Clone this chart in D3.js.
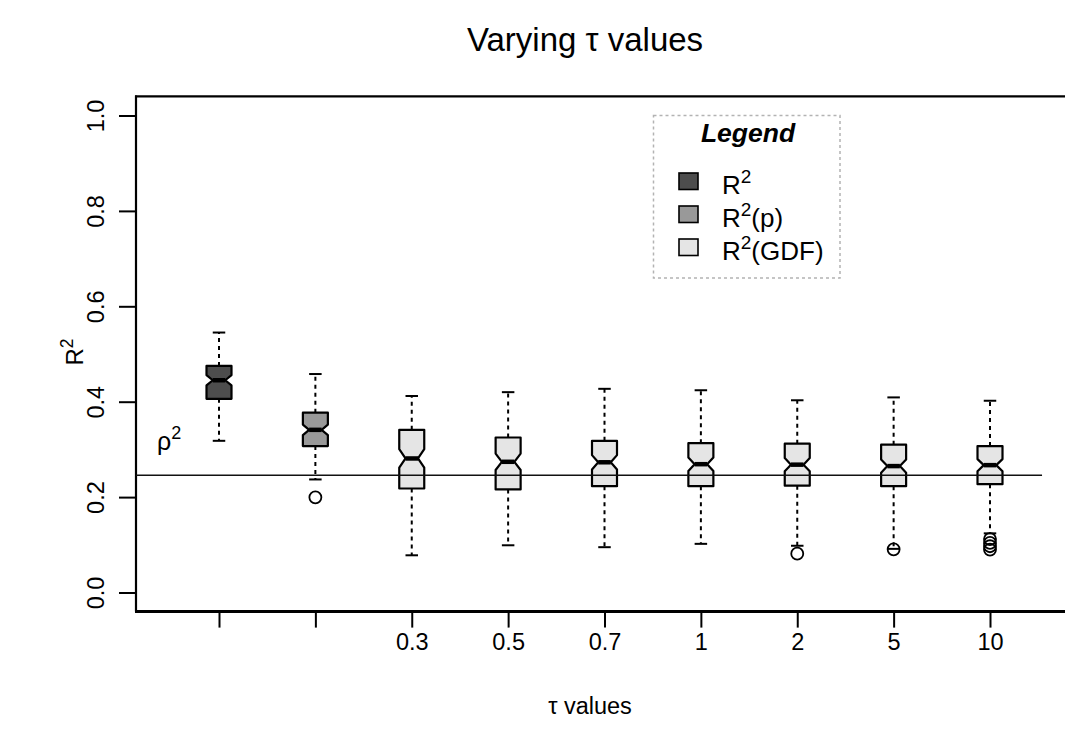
<!DOCTYPE html>
<html><head><meta charset="utf-8">
<script src="https://cdn.jsdelivr.net/npm/d3@7"></script>
<style>body{margin:0;background:#fff} svg{display:block} text{font-family:"Liberation Sans",Arial,Helvetica,sans-serif;fill:#000}</style>
</head><body><svg id="c" width="1065" height="745"></svg>
<script>
// ---------------- data ----------------
const groups = ["R2", "R2p", "0.3", "0.5", "0.7", "1", "2", "5", "10"];
const tickLabels = ["", "", "0.3", "0.5", "0.7", "1", "2", "5", "10"];
const boxFills = ["#4d4d4d", "#999999", "#e5e5e5", "#e5e5e5", "#e5e5e5", "#e5e5e5", "#e5e5e5", "#e5e5e5", "#e5e5e5"];
const whiskerLow  = [0.318, 0.237, 0.078, 0.099, 0.095, 0.102, 0.098, 0.0915, 0.124];
const q1          = [0.406, 0.307, 0.218, 0.216, 0.223, 0.223, 0.224, 0.223, 0.227];
const median      = [0.445, 0.341, 0.281, 0.274, 0.273, 0.269, 0.268, 0.265, 0.267];
const q3          = [0.475, 0.377, 0.341, 0.325, 0.318, 0.313, 0.312, 0.310, 0.307];
const whiskerHigh = [0.545, 0.458, 0.412, 0.420, 0.427, 0.424, 0.403, 0.409, 0.402];
const outliers    = [[], [0.1996], [], [], [], [], [0.0814], [0.0905], [0.112, 0.104, 0.097, 0.090]];
const nObs = 100;
const rho2 = 0.2457;
const yTicks = [0, 0.2, 0.4, 0.6, 0.8, 1.0];
const legendLabels = ["", "(p)", "(GDF)"];
const legendFills = ["#4d4d4d", "#999999", "#e5e5e5"];

// ---------------- layout ----------------
const svg = d3.select("#c");
const plotLeft = 136, plotTop = 96.4, plotBottom = 611.6;
const x = d3.scaleLinear().domain([1, 9]).range([219, 990]);
const y = d3.scaleLinear().domain([0, 1]).range([592.5, 115.5]);
const halfW = 12.5;
const FONT = '"Liberation Sans",Arial,sans-serif';

// frame
svg.append("line").attr("x1", plotLeft - 1).attr("x2", 1065).attr("y1", plotTop).attr("y2", plotTop)
  .attr("stroke", "#000").attr("stroke-width", 2.2);
svg.append("line").attr("x1", plotLeft).attr("x2", plotLeft).attr("y1", plotTop - 1).attr("y2", plotBottom)
  .attr("stroke", "#000").attr("stroke-width", 2.2);

// y axis
const yAxis = svg.append("g").attr("transform", `translate(${plotLeft},0)`)
  .call(d3.axisLeft(y).tickValues(yTicks).tickSize(17).tickFormat(d3.format(".1f")));
yAxis.select(".domain").remove();
yAxis.selectAll(".tick line").attr("stroke", "#000").attr("stroke-width", 2);
yAxis.selectAll(".tick text").attr("x", null).attr("dy", null).attr("text-anchor", "middle")
  .attr("transform", "translate(-32,0) rotate(-90)")
  .style("font-size", "23.5px").style("font-family", FONT).attr("fill", "#000");

// x axis
const xAxis = svg.append("g").attr("transform", `translate(0,${plotBottom})`)
  .call(d3.axisBottom(x).tickValues(d3.range(1, 10)).tickSize(16).tickFormat((d, i) => tickLabels[i]));
xAxis.select(".domain").remove();
xAxis.selectAll(".tick line").attr("stroke", "#000").attr("stroke-width", 2);
xAxis.selectAll(".tick text").attr("y", 38).attr("dy", null)
  .style("font-size", "23.5px").style("font-family", FONT).attr("fill", "#000");
svg.append("line").attr("x1", plotLeft - 1).attr("x2", 1065).attr("y1", plotBottom).attr("y2", plotBottom)
  .attr("stroke", "#000").attr("stroke-width", 3);

// boxes
const boxes = svg.append("g");
groups.forEach((g, i) => {
  const cx = x(i + 1);
  const notch = 1.58 * (q3[i] - q1[i]) / Math.sqrt(nObs);
  const gEl = boxes.append("g");
  [[q3[i], whiskerHigh[i]], [q1[i], whiskerLow[i]]].forEach(([a, b]) => {
    gEl.append("line").attr("x1", cx).attr("x2", cx).attr("y1", y(a)).attr("y2", y(b))
      .attr("stroke", "#000").attr("stroke-width", 2).attr("stroke-dasharray", "4,4");
    gEl.append("line").attr("x1", cx - halfW / 2).attr("x2", cx + halfW / 2).attr("y1", y(b)).attr("y2", y(b))
      .attr("stroke", "#000").attr("stroke-width", 2);
  });
  const pts = [
    [cx - halfW, y(q1[i])], [cx + halfW, y(q1[i])], [cx + halfW, y(median[i] - notch)],
    [cx + halfW / 2, y(median[i])], [cx + halfW, y(median[i] + notch)], [cx + halfW, y(q3[i])],
    [cx - halfW, y(q3[i])], [cx - halfW, y(median[i] + notch)], [cx - halfW / 2, y(median[i])],
    [cx - halfW, y(median[i] - notch)]
  ];
  gEl.append("path").attr("d", d3.line()(pts) + "Z").attr("fill", boxFills[i])
    .attr("stroke", "#000").attr("stroke-width", 2.2).attr("stroke-linejoin", "round");
  gEl.append("line").attr("x1", cx - halfW / 2).attr("x2", cx + halfW / 2)
    .attr("y1", y(median[i])).attr("y2", y(median[i])).attr("stroke", "#000").attr("stroke-width", 4.5);
  outliers[i].forEach(v => {
    gEl.append("circle").attr("cx", cx).attr("cy", y(v)).attr("r", 6)
      .attr("fill", "none").attr("stroke", "#000").attr("stroke-width", 1.8);
  });
});

// rho^2 line
svg.append("line").attr("x1", plotLeft).attr("x2", x(9.54)).attr("y1", y(rho2)).attr("y2", y(rho2))
  .attr("stroke", "#111").attr("stroke-width", 1.6);
const rt = svg.append("text").attr("x", 157).attr("y", 450).style("font-size", "25px");
rt.append("tspan").text("ρ");
rt.append("tspan").attr("dy", -11).style("font-size", "18px").text("2");

// legend
svg.append("rect").attr("x", 653.5).attr("y", 115.5).attr("width", 186.5).attr("height", 162.5)
  .attr("fill", "#fff").attr("stroke", "#b3b3b3").attr("stroke-width", 1.5).attr("stroke-dasharray", "3,3");
svg.append("text").attr("x", 748).attr("y", 142).attr("text-anchor", "middle")
  .style("font-size", "26.5px").style("font-weight", "bold").style("font-style", "italic").text("Legend");
legendLabels.forEach((lab, i) => {
  const yy = 173 + i * 33;
  svg.append("rect").attr("x", 679).attr("y", yy).attr("width", 19).attr("height", 16.5)
    .attr("fill", legendFills[i]).attr("stroke", "#000").attr("stroke-width", 1.6);
  const t = svg.append("text").attr("x", 722).attr("y", yy + 21).style("font-size", "26px");
  t.append("tspan").text("R");
  t.append("tspan").attr("dy", -11).style("font-size", "19px").text("2");
  if (lab) t.append("tspan").attr("dy", 11).text(lab);
});

// titles
svg.append("text").attr("x", 585).attr("y", 51).attr("text-anchor", "middle")
  .style("font-size", "33px").text("Varying τ values");
svg.append("text").attr("x", 590).attr("y", 714).attr("text-anchor", "middle")
  .style("font-size", "23.5px").text("τ values");
const yl = svg.append("text").attr("transform", "translate(83,352) rotate(-90)").attr("text-anchor", "middle")
  .style("font-size", "24px");
yl.append("tspan").text("R");
yl.append("tspan").attr("dy", -10).style("font-size", "17.5px").text("2");
</script></body></html>
